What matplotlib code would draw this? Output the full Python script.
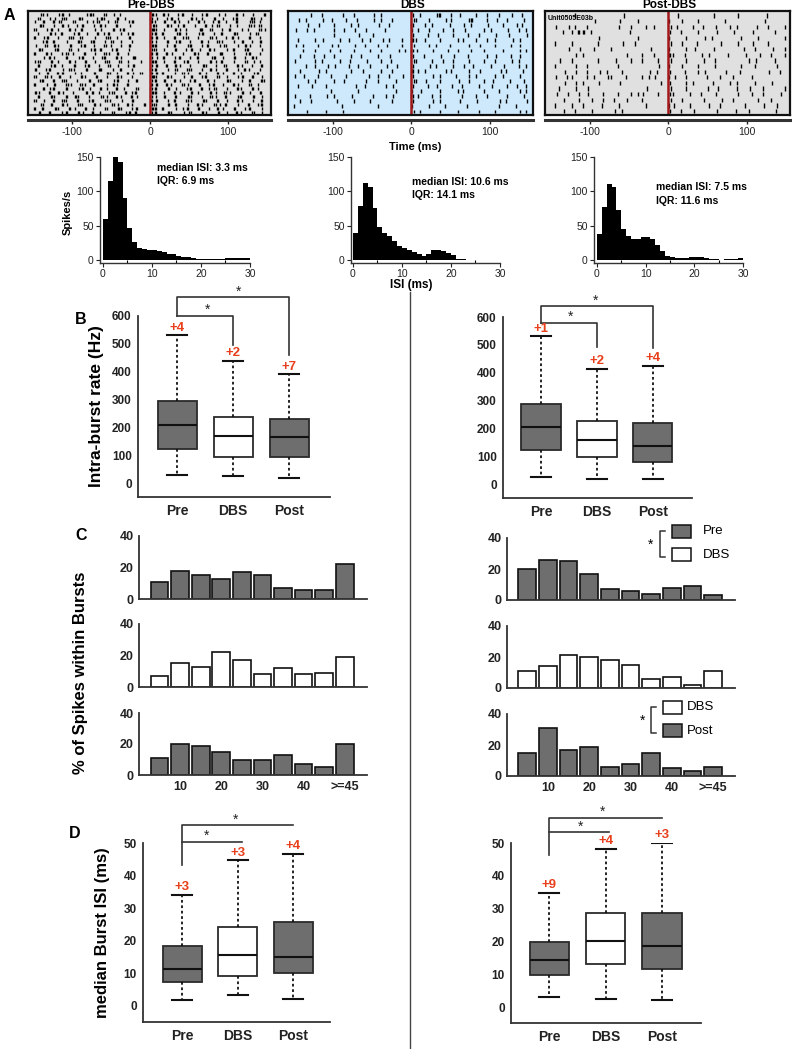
import matplotlib
matplotlib.use('Agg')
import matplotlib.pyplot as plt
import numpy as np
from matplotlib.patches import Rectangle
from matplotlib.lines import Line2D

plt.rcParams['font.family'] = ['Liberation Sans', 'DejaVu Sans']

# ---------------- data ----------------
# raster rows: "left right", each char = 5 ms bin (left from -150 ms, right from 0 ms)
# digit = one spike at that offset (ms) in the bin, letter a-d = a spike doublet
raster_pre = [
    "..a2..3b.1...4c2..b.3.1....... c2.b3..1a.4..2b..3.1..a4..2..b",
    ".b..13.c2..4a...2b1..c.3...... a3..2b.1..c4.2..b.3..1a..4b.2.",
    "2.c..a31..b..4.2c..1.a..3b.... b1.c..a2.3..b4..1c.2..a..3b.1.",
    ".3a..2.b4..1c..3.a2..b..4..... 3a..b2.1c..3..a4.b..2.1..c3.a.",
    "b..2c.1..a3.b..4.2..c.1a...... ca.2..b3.1..4a.c..2.b..3.1..a2",
    ".1..b3.a..2c.4..b.1a..3.2b.... 2b.a..4c.1..3b..2.a..c1..3.b..",
    "a.3c..2..b1.a..4..3b.2..c..... bc.3..a.2b..1..c4..2.a3..b..1.",
    "..2b.a..3..c1.4b..2.a.3..1.... a2..b.3c..1..a4..b2..3.c..1.b.",
    "3..a.b2..c..1a.3..b4..2.c..... cb..2.a..3b..1c..4.a..2.b3..1.",
    ".c1..3a..b.2..4c.a..1b..3..... 2a.3..b..1c.4..a2..3.b..c1..4.",
    "a..b3..2c.1..a.4..b2.c..1..... bc..a3..2..b1.c..4a..2..3b..1.",
    "..3.a2..b..4c..1.3a..b2..c1... a3.b..2c..1.a..4b.3..c..2.a1..",
    "2b..c.1..a3..b.4..c2..a.1..3.. cb.2..a.3c..1..b4.a..2..c.3.1.",
    ".a..3b.2..c..1a.4..b.3..2c.... 2c..a.b3..1..c2.4..a..b3..1.c.",
    "c..1a..3.b2..c..4a..2.b..1.... ab..3.c..2a..1.b4..c..3.a2..1.",
    ".2.c..ab..3.1..c..4b.2..a3.c.. bc.a..2.b3..c.1..a4..b.2..3c..",
    "b..a3.c..2..b1..a.4..c3..2.... ca..b2..3.c..1a..b.4..2c..a.3.",
    ".3b..a.c2..1..b.3a..4c..2.b... 2b.c..a3..1b..c.2..4a..3.b..c1",
    "a..2.b..c3..a1.b..4.c2..a..... bc..a2..b3..c..1a.4..b2..c.3..",
    "..c.1a..b..3c.2..a4..b.1..c... ab..c.3..2b..a.1c..4..b2..a3..",
    "c2..a.b3..1..c.a4..2b..c.1a... cb.2..a3..c.1..b4..a2..c.3..b.",
    ".a..c2..b.3a..1..c4..b2..a3... a2.c..b..3a..1.c4..b..2a..c.3.",
    "b.3..a.c2..b..1a..c3..4..b.... bc..3.a..b2..c1..a.4..b3..2.c.",
    "..a.c..b3..2a..c.1..b4..a2..c. 2a..c.b..3..a1..c4.b..2..a.3c.",
    "a.b..c2..a3..b.1..c..4a..2b... cb.a..3.2c..b..1.a4..c..2b..3.",
    ".c..a..2b..c3..a.1..b..4c.a... ab..c2..3.a..b1..c.4..a2..b.3.",
]
raster_dbs = [
    "....2..1....3..2....3.1....... 2.1...3a..1.2...3..1..2..3..1.",
    ".2.1...3.4...2..1...3.2..1.... 31..2...4.1...3b...1.4..2...3.",
    "...3..2...1...3.2....4..1..... a..3.1...4...2.1...3...2..4.1.",
    "3..2.1....2.4..3..2....1...... 13..2...1.3..4....2.1...3..2.1",
    "..........2.....3...1......... 2...1.4...3...2..1...3..4....2",
    ".1...3.2...4..1..2.3..4.2..3.. b1.3...2...4.1..3..2.1...4.3..",
    "3.2...1..4.2...3..1..2.4...3.. 3...2.1..4....3..2...1...2.4..",
    "..2..3...1.4...2...3..1...4.2. a2...3...2.4...1..3....2...4.1",
    ".3...1.4..2...3..1...2..3..... 2..1...3..4...2....1.3...2.4..",
    "2....3.1...4..2...3...1.4..... 31...2..1.3...4...2..1...3.2..",
    "...1.2..4.3...1.2..3...4..2... 2...4.1...3..2.4....1..3...2.1",
    ".3....2.1.....3..4....2..1.... b3.2....4.1...3..2....4.1...2.",
    "2.4...1..3...2.....1.3..2..4.. 2....3.1...2..4.3....1.2...4..",
    "...3.2....1.4.....2..3....1... 31.4...2....1.3...2.4....1..3.",
    ".1..3...2......4..1....3.2.... 2...1.3...2.4....1..3...2.4..1",
    ".........3......2.........1... 1.3....2...4.1....3...2....4.1",
    "2...1...3.2...4.....1..3.2.... a3...1.2....4...3..1....2...3.",
    ".3..2......1...2...3.....1.... 2....3.1....2...4.....3.1....2",
    "1...........2........3........ 1...2...3.....1.......2...3...",
    "...2....1...3................. 3.1....2...4.....1...2.....3.1",
]
raster_post = [
    "......1...........3........... ..2........3.....4.......1....",
    "...........2.....3....1....... 1..2...3......2.........3.....",
    ".2..3.1..2.......2..3...1.2... 3.1...2.4...1..3.2....3..2...4",
    "...1.3.ab.2.........1......... 2..1...3....2...4....3.....1..",
    "............2.........2....... 1...3....2.1......3...4......3",
    ".1...2......1.....2..3........ 3..2...1.....2...4...3...2....",
    "....3..2...1...2.........3.... 1...2.4....3.......2..1...3..4",
    "......2.1..........3...1..2... b1..1...3.2....1...4...2..1..3",
    "..2..3......1...3...2..1...2.. 3...2....1.4........3.2....1..",
    ".1....3..2.......1.........3.. 1..2...3...4......2...1....3..",
    "...3..2..1..3.2...1......2.1.. 2...1..3.2....4...1......3..2.",
    ".2..13...2.1..32...1...2.13... 13..2....4...1..3....2........",
    "...3..2.1...2....3..........1. 2...3.1....2...4.3....1...2...",
    "..1...2..3..............3..... 3...2.....1.3....2..4...1....3",
    ".3..2..1.3...2...1..2.13...2.. 21...3..2...1....4...2..1...3.",
    "...2...1..3..2..1..3...2...... 3..2.....1...3..2.....4...1...",
    ".1...3..2....1...2......1..... 12...3....2..1.....3....2..4..",
    "...2..1...3.....2.1........... 2..1..3.....2....1..3......2..",
]

isi_edges = np.arange(0, 31)
isi_pre = [60, 115, 150, 143, 90, 47, 26, 18, 16, 15, 14, 13, 11, 9, 8,
           6, 5, 4, 3, 2, 1, 1, 1, 1, 2, 3, 3, 3, 3, 3]
isi_dbs = [40, 78, 112, 107, 75, 48, 39, 35, 28, 20, 17, 14, 12, 8, 6,
           9, 14, 15, 13, 10, 7, 2, 1, 0, 0, 0, 0, 0, 0, 0]
isi_post = [38, 77, 110, 106, 73, 45, 35, 31, 30, 33, 34, 31, 22, 13, 6,
            4, 3, 3, 3, 4, 5, 5, 3, 2, 1, 0, 1, 1, 2, 3]
isi_texts = [("median ISI: 3.3 ms", "IQR: 6.9 ms"),
             ("median ISI: 10.6 ms", "IQR: 14.1 ms"),
             ("median ISI: 7.5 ms", "IQR: 11.6 ms")]

groups = ['Pre', 'DBS', 'Post']
fills = ['#6e6e6e', 'white', '#6e6e6e']

# intra-burst rate (Hz)
rate_l_lo = [30, 25, 20]
rate_l_q1 = [123, 95, 93]
rate_l_med = [208, 170, 167]
rate_l_q3 = [293, 237, 230]
rate_l_hi = [530, 438, 390]
rate_l_out = ['+4', '+2', '+7']
rate_r_lo = [25, 18, 18]
rate_r_q1 = [122, 97, 80]
rate_r_med = [205, 158, 137]
rate_r_q3 = [287, 228, 220]
rate_r_hi = [530, 415, 425]
rate_r_out = ['+1', '+2', '+4']

# % of spikes within bursts
burst_ticks = ['10', '20', '30', '40', '>=45']
burst_pre_l = [11, 18, 15, 13, 17, 15, 7, 6, 6, 22]
burst_dbs_l = [7, 15, 13, 22, 17, 8, 12, 8, 9, 19]
burst_post_l = [11, 20, 19, 15, 10, 10, 13, 7, 5, 20]
burst_pre_r = [20, 26, 25, 17, 7, 6, 4, 8, 9, 3]
burst_dbs_r = [11, 14, 21, 20, 18, 15, 6, 7, 2, 11]
burst_post_r = [15, 31, 17, 19, 6, 8, 15, 5, 3, 6]

# median burst ISI (ms)
bisi_l_lo = [1.8, 3.3, 2.1]
bisi_l_q1 = [7.2, 9.2, 10.0]
bisi_l_med = [11.3, 15.6, 15.0]
bisi_l_q3 = [18.4, 24.3, 25.7]
bisi_l_hi = [34.0, 44.7, 46.7]
bisi_l_out = ['+3', '+3', '+4']
bisi_r_lo = [3.2, 2.5, 2.3]
bisi_r_q1 = [10.0, 13.2, 11.8]
bisi_r_med = [14.4, 20.2, 18.8]
bisi_r_q3 = [20.0, 28.8, 28.6]
bisi_r_hi = [34.8, 48.2, 50.0]
bisi_r_out = ['+9', '+4', '+3']

# ---------------- layout helpers ----------------
W, H = 792, 1049
fig = plt.figure(figsize=(W / 100, H / 100), dpi=100)


def rect(l, t, r, b):
    return [l / W, 1 - b / H, (r - l) / W, (b - t) / H]


def fxy(x, y):
    return x / W, 1 - y / H


def ftext(x, y, s, **kw):
    fx, fy = fxy(x, y)
    fig.text(fx, fy, s, **kw)


def fline(xs, ys, **kw):
    fig.add_artist(Line2D([x / W for x in xs], [1 - y / H for y in ys],
                          transform=fig.transFigure, **kw))


def spike_times(part, start):
    out = []
    for i, c in enumerate(part):
        b = start + 5 * i
        if c.isdigit():
            out.append(b + int(c))
        elif c in 'abcd':
            k = ord(c) - 96
            out += [b + k - 0.8, b + k + 0.8]
    return out


DARK = '#2a2a2a'
RED = '#e8401c'

# ---------------- A: rasters ----------------
raster_specs = [
    (raster_pre, 'Pre-DBS', '#e0e0e0', (28, 271)),
    (raster_dbs, 'DBS', '#cde9fb', (288, 533)),
    (raster_post, 'Post-DBS', '#e0e0e0', (545, 790)),
]
for rows, title, bg, (l, r) in raster_specs:
    ax = fig.add_axes(rect(l, 11, r, 115))
    ax.set_facecolor(bg)
    n = len(rows)
    for k, row in enumerate(rows):
        left, right = row.split(' ')
        times = spike_times(left, -150) + spike_times(right, 0)
        y = n - k
        ax.vlines(times, y - 0.38, y + 0.38, color='k', lw=1.0)
    ax.axvline(0, color='#a11818', lw=1.8)
    ax.set_xlim(-157, 155)
    ax.set_ylim(0.3, n + 0.8)
    ax.set_xticks([])
    ax.set_yticks([])
    for sp in ax.spines.values():
        sp.set_linewidth(1.6)
        sp.set_color('#111')
    ftext((l + r) / 2 + 2, 5.5, title, fontsize=8.5, fontweight='bold',
          ha='center', va='center')
    tx = fig.add_axes(rect(l, 119, r, 120))
    tx.patch.set_visible(False)
    for side in ['top', 'left', 'right']:
        tx.spines[side].set_visible(False)
    tx.spines['bottom'].set_linewidth(2.2)
    tx.spines['bottom'].set_color('#333')
    tx.set_xlim(-157, 155)
    tx.set_yticks([])
    tx.set_xticks([-100, 0, 100])
    tx.set_xticklabels(['-100', '0', '100'])
    tx.tick_params(axis='x', length=3, width=1, labelsize=7.5, pad=2, colors='#222')

ftext(548, 18, 'Unit0505E03b', fontsize=5, fontweight='bold', va='center')
ftext(9, 15, 'A', fontsize=11.5, fontweight='bold', ha='center', va='center')
ftext(415, 147, 'Time (ms)', fontsize=8, fontweight='bold', ha='center', va='center')

# ---------------- A: ISI histograms ----------------
hist_specs = [
    (isi_pre, (100, 157, 250, 263), -0.6, (157, 168)),
    (isi_dbs, (351, 157, 500, 263), -0.4, (412, 182)),
    (isi_post, (594, 157, 743, 263), -0.6, (656, 187)),
]
for (vals, box, x0, (tx_, ty_)), (t1, t2) in zip(hist_specs, isi_texts):
    ax = fig.add_axes(rect(*box))
    ax.bar(isi_edges[:-1], vals, width=1, align='edge', color='k', linewidth=0)
    ax.set_xlim(x0, 30)
    ax.set_ylim(-4.4, 150)
    ax.spines['top'].set_visible(False)
    ax.spines['right'].set_visible(False)
    for sp in ['left', 'bottom']:
        ax.spines[sp].set_color('#333')
        ax.spines[sp].set_linewidth(1)
    ax.set_xticks([0, 10, 20, 30])
    ax.set_xticks([5, 15, 25], minor=True)
    ax.set_yticks([0, 50, 100, 150])
    ax.tick_params(length=3, width=0.8, labelsize=7.5, pad=1.5, colors='#222')
    ax.tick_params(which='minor', length=2.5, width=0.8, direction='in')
    ftext(tx_, ty_, t1, fontsize=7.5, fontweight='bold', va='center')
    ftext(tx_, ty_ + 13.5, t2, fontsize=7.5, fontweight='bold', va='center')

ftext(68, 212, 'Spikes/s', fontsize=8, fontweight='bold', rotation=90,
      ha='center', va='center')
ftext(411, 285, 'ISI (ms)', fontsize=8.5, fontweight='bold', ha='center', va='center')

# divider
fline([410, 410], [292, 1049], color='#444', lw=1)


# ---------------- box plot helper ----------------
def style_axes(ax, ytl_size=8.5, xtl_size=10):
    ax.spines['top'].set_visible(False)
    ax.spines['right'].set_visible(False)
    for sp in ['left', 'bottom']:
        ax.spines[sp].set_color('#333')
        ax.spines[sp].set_linewidth(1.3)
    ax.tick_params(length=0, colors='#222')
    ax.tick_params(axis='y', labelsize=ytl_size, pad=4.5)
    ax.tick_params(axis='x', labelsize=xtl_size, pad=5)
    for lab in ax.get_xticklabels() + ax.get_yticklabels():
        lab.set_fontweight('bold')


def boxpanel(box, lo, q1, med, q3, hi, out, xlim, ylim, yticks):
    ax = fig.add_axes(rect(*box))
    stats = [dict(whislo=a, q1=b, med=c, q3=d, whishi=e, fliers=[])
             for a, b, c, d, e in zip(lo, q1, med, q3, hi)]
    bp = ax.bxp(stats, positions=[1, 2, 3], widths=0.7, patch_artist=True,
                showfliers=False, capwidths=0.36,
                boxprops=dict(edgecolor=DARK, linewidth=1.3),
                medianprops=dict(color='#111', linewidth=1.5),
                whiskerprops=dict(color='#111', linewidth=1.3, linestyle=(0, (1.5, 1.5))),
                capprops=dict(color='#111', linewidth=1.5))
    for patch, c in zip(bp['boxes'], fills):
        patch.set_facecolor(c)
    for p, h, t in zip([1, 2, 3], hi, out):
        ax.annotate(t, (p, h), xytext=(0, 1.2), textcoords='offset points',
                    ha='center', va='bottom', color=RED, fontsize=9.5,
                    fontweight='bold', annotation_clip=False)
    ax.set_xlim(*xlim)
    ax.set_ylim(*ylim)
    ax.set_yticks(yticks)
    ax.set_xticks([1, 2, 3])
    ax.set_xticklabels(groups)
    style_axes(ax)
    return ax


def bracket(ax, xs, ys):
    ax.plot(xs, ys, color='#333', lw=1.2, clip_on=False)


def star(ax, x, y):
    ax.text(x, y, '*', ha='center', va='center', fontsize=10, color='#222',
            clip_on=False)


# ---------------- B ----------------
axb1 = boxpanel((138, 316, 330, 497), rate_l_lo, rate_l_q1, rate_l_med, rate_l_q3,
                rate_l_hi, rate_l_out, (0.3, 3.73), (-50, 600), range(0, 601, 100))
bracket(axb1, [1, 1, 3, 3], [600, 669, 669, 460])
bracket(axb1, [1, 2, 2], [600, 600, 496])
star(axb1, 1.54, 622)
star(axb1, 2.1, 688)
axb1.set_ylabel('Intra-burst rate (Hz)', fontsize=12.5, fontweight='bold', labelpad=6)

axb2 = boxpanel((503, 317, 692, 498), rate_r_lo, rate_r_q1, rate_r_med, rate_r_q3,
                rate_r_hi, rate_r_out, (0.32, 3.70), (-50, 600), range(0, 601, 100))
bracket(axb2, [1, 1, 3, 3], [579, 640, 640, 489])
bracket(axb2, [1, 2, 2], [579, 579, 493])
star(axb2, 1.52, 602)
star(axb2, 1.98, 658)

ftext(81, 320, 'B', fontsize=11.5, fontweight='bold', ha='center', va='center')

# ---------------- C ----------------
pos = np.arange(1, 11)
c_specs = [
    ((139, 536, 367, 599), burst_pre_l, fills[0], (0, 11.08)),
    ((139, 624, 367, 687), burst_dbs_l, fills[1], (0, 11.08)),
    ((139, 713, 367, 775), burst_post_l, fills[2], (0, 11.08)),
    ((507, 538, 735, 600), burst_pre_r, fills[0], (0.03, 11.05)),
    ((507, 626, 735, 688), burst_dbs_r, fills[1], (0.03, 11.05)),
    ((507, 714, 735, 776), burst_post_r, fills[2], (0.03, 11.05)),
]
for i, (box, vals, fc, xl) in enumerate(c_specs):
    ax = fig.add_axes(rect(*box))
    ax.bar(pos, vals, width=0.86, color=fc, edgecolor='#111', linewidth=1.2)
    ax.set_xlim(*xl)
    ax.set_ylim(0, 40)
    ax.set_yticks([0, 20, 40])
    ax.set_xticks([2, 4, 6, 8, 10])
    if i % 3 == 2:
        ax.set_xticklabels(burst_ticks)
    else:
        ax.set_xticklabels([])
    style_axes(ax, ytl_size=9, xtl_size=9)
    ax.tick_params(axis='y', pad=4)
    ax.tick_params(axis='x', pad=4)

ftext(81, 535, 'C', fontsize=11.5, fontweight='bold', ha='center', va='center')
ftext(80, 673, '% of Spikes within Bursts', fontsize=12, fontweight='bold',
      rotation=90, ha='center', va='center')

# legend insets in C right
for (sx, sy), fc, lab in zip([(672, 525), (672, 548)], [fills[0], fills[1]], ['Pre', 'DBS']):
    fx, fy = fxy(sx, sy + 13)
    fig.add_artist(Rectangle((fx, fy), 19 / W, 13 / H, transform=fig.transFigure,
                             facecolor=fc, edgecolor='#111', lw=1.1))
    ftext(sx + 31, sy + 6.5, lab, fontsize=9.5, va='center')
fline([665, 660, 660, 665], [531, 531, 557, 557], color='#333', lw=1.1)
ftext(651, 545, '*', fontsize=10, ha='center', va='center')

for (sx, sy), fc, lab in zip([(663, 701), (663, 724)], [fills[1], fills[2]], ['DBS', 'Post']):
    fx, fy = fxy(sx, sy + 13)
    fig.add_artist(Rectangle((fx, fy), 19 / W, 13 / H, transform=fig.transFigure,
                             facecolor=fc, edgecolor='#111', lw=1.1))
    ftext(sx + 24, sy + 6.5, lab, fontsize=9.5, va='center')
fline([656, 651, 651, 656], [707, 707, 733, 733], color='#333', lw=1.1)
ftext(643, 721, '*', fontsize=10, ha='center', va='center')

# ---------------- D ----------------
axd1 = boxpanel((143, 843, 330, 1022), bisi_l_lo, bisi_l_q1, bisi_l_med, bisi_l_q3,
                bisi_l_hi, bisi_l_out, (0.29, 3.66), (-5, 50), range(0, 51, 10))
bracket(axd1, [1, 1, 3], [43.2, 55.5, 55.5])
bracket(axd1, [1, 2.07], [50.2, 50.2])
star(axd1, 1.43, 52.2)
star(axd1, 1.96, 57.0)
axd1.set_ylabel('median Burst ISI (ms)', fontsize=12, fontweight='bold', labelpad=10)

axd2 = boxpanel((511, 843, 701, 1023), bisi_r_lo, bisi_r_q1, bisi_r_med, bisi_r_q3,
                bisi_r_hi, bisi_r_out, (0.32, 3.69), (-4.7, 50), range(0, 51, 10))
bracket(axd2, [1, 1, 3], [46.3, 57.5, 57.5])
bracket(axd2, [1, 2.05], [53.2, 53.2])
star(axd2, 1.55, 55.0)
star(axd2, 1.95, 59.6)

ftext(75, 833, 'D', fontsize=11.5, fontweight='bold', ha='center', va='center')

fig.savefig('out.png', dpi=100)
